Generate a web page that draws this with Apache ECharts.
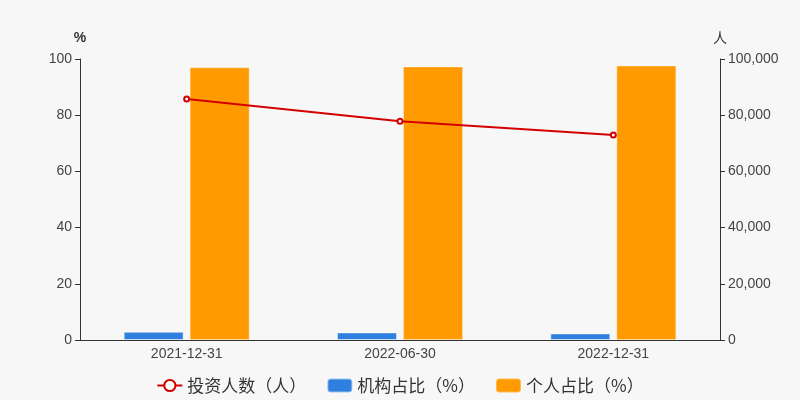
<!DOCTYPE html>
<html><head><meta charset="utf-8">
<script src="https://cdn.jsdelivr.net/npm/echarts@6/dist/echarts.min.js"></script>
<style>html,body{margin:0;padding:0;background:#f7f7f7}#c{width:800px;height:400px}</style>
</head><body><div id="c"></div>
<script>
const categories = ['2021-12-31', '2022-06-30', '2022-12-31'];
const investors = [85770, 77830, 72950];
const institutionPct = [2.95, 2.7, 2.35];
const individualPct = [97.05, 97.3, 97.65];
const leftTicks = [0, 20, 40, 60, 80, 100];
const rightTicks = [0, 20000, 40000, 60000, 80000, 100000];

const chart = echarts.init(document.getElementById('c'), null, {renderer: 'canvas'});
const cjk = 'Noto Sans CJK SC';
chart.setOption({
  backgroundColor: '#f7f7f7',
  animation: false,
  grid: {left: 80, right: 80, top: 59, bottom: 60},
  legend: {
    top: 372, left: 'center', itemWidth: 25, itemHeight: 14, itemGap: 20,
    textStyle: {fontSize: 17, color: '#333', fontFamily: cjk},
    data: [
      {name: '投资人数（人）'},
      {name: '机构占比（%）', icon: 'roundRect'},
      {name: '个人占比（%）', icon: 'roundRect'}
    ]
  },
  xAxis: {
    type: 'category', data: categories,
    axisLine: {lineStyle: {color: '#333'}}, axisTick: {lineStyle: {color: '#333'}},
    axisLabel: {color: '#444', fontSize: 14, margin: 7}
  },
  yAxis: [
    {type: 'value', name: '%', min: leftTicks[0], max: leftTicks[leftTicks.length-1], interval: 20,
     nameTextStyle: {color: '#333', fontSize: 14, fontWeight: 'bold'}, nameGap: 14,
     axisLine: {show: true, lineStyle: {color: '#333'}}, axisTick: {show: true, lineStyle: {color: '#333'}},
     splitLine: {show: false}, axisLabel: {color: '#444', fontSize: 14}},
    {type: 'value', name: '人', min: rightTicks[0], max: rightTicks[rightTicks.length-1], interval: 20000,
     nameTextStyle: {color: '#333', fontSize: 14, fontFamily: cjk}, nameGap: 14,
     axisLine: {show: true, lineStyle: {color: '#333'}}, axisTick: {show: true, lineStyle: {color: '#333'}},
     splitLine: {show: false}, axisLabel: {color: '#444', fontSize: 14,
       formatter: v => v.toLocaleString('en-US')}}
  ],
  series: [
    {name: '投资人数（人）', type: 'line', yAxisIndex: 1, data: investors,
     symbol: 'emptyCircle', symbolSize: 5, z: 5,
     itemStyle: {color: '#d40000'}, lineStyle: {color: '#d40000', width: 2}},
    {name: '机构占比（%）', type: 'bar', yAxisIndex: 0, data: institutionPct,
     barWidth: 60, barGap: '10%',
     itemStyle: {color: '#2e7fdf', borderColor: 'rgba(255,255,255,0.5)', borderWidth: 1}},
    {name: '个人占比（%）', type: 'bar', yAxisIndex: 0, data: individualPct,
     barWidth: 60, barGap: '10%',
     itemStyle: {color: '#ff9a00', borderColor: 'rgba(255,255,255,0.3)', borderWidth: 1}}
  ]
});
</script></body></html>
